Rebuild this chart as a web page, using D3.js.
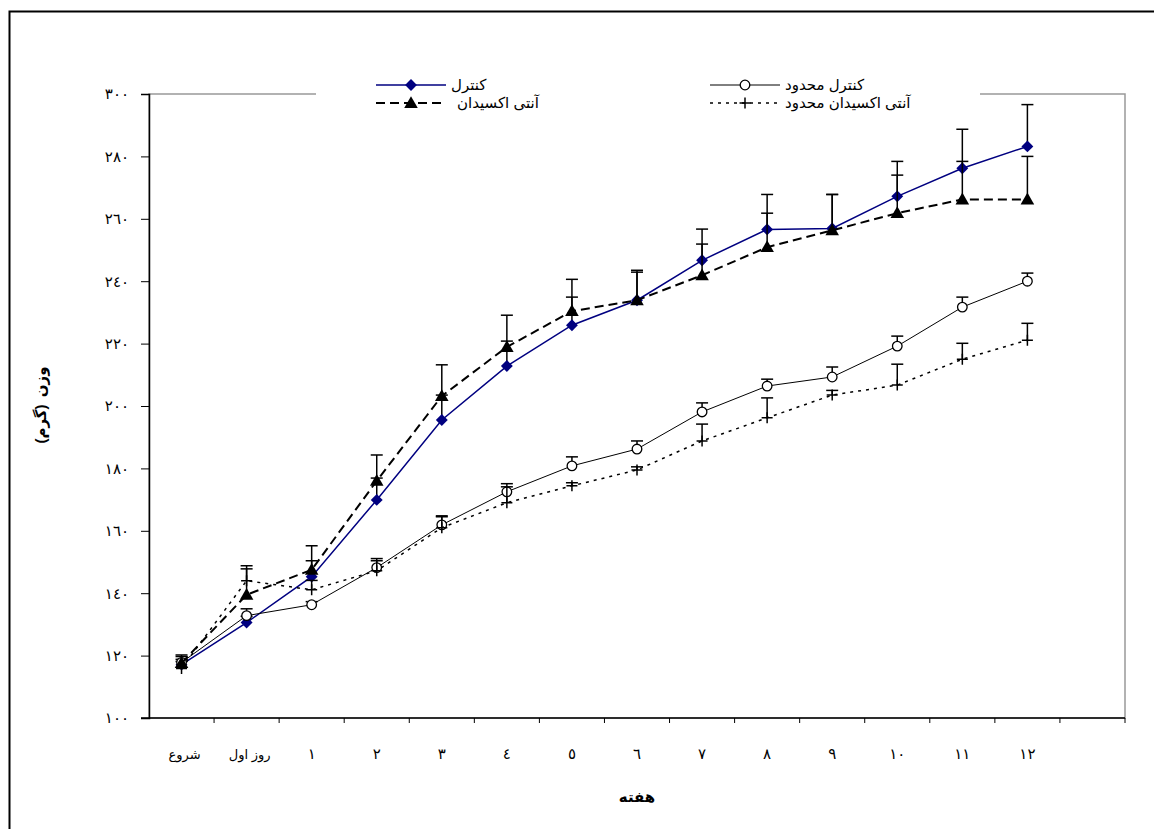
<!DOCTYPE html>
<html>
<head>
<meta charset="utf-8">
<script src="https://cdn.jsdelivr.net/npm/d3@7"></script>
<style>
  body { margin: 0; background: #fff; }
  text { font-family: "Liberation Sans", "DejaVu Sans", sans-serif; }
</style>
</head>
<body>
<div id="chart"></div>
<script>
// categories (weeks) - last slot on the axis is left empty
const categories = ["شروع", "روز اول", "١", "٢", "٣", "٤", "٥", "٦", "٧", "٨", "٩", "١٠", "١١", "١٢"];
const yTicks = [100, 120, 140, 160, 180, 200, 220, 240, 260, 280, 300];

// series values (g) and upper error bars
const control        = [117.1, 130.6, 145.3, 169.9, 195.5, 212.8, 225.9, 233.9, 246.7, 256.6, 256.9, 267.2, 276.2, 283.2];
const controlErr     = [1, 2, 5.1, 7, 8, 8, 9, 9.6, 10, 11.2, 10.9, 11.2, 12.5, 13.4];
const controlR       = [117.8, 132.8, 136.3, 148.2, 161.9, 172.5, 180.8, 186.2, 198.1, 206.4, 209.3, 219.2, 231.7, 240];
const controlRErr    = [1, 2.2, 1, 2.9, 2.6, 2.6, 2.9, 2.6, 2.9, 2.2, 3.2, 3.2, 3.2, 2.6];
const antiox         = [117.6, 139.5, 147.5, 176, 203.2, 218.9, 230.4, 233.9, 241.9, 250.9, 256.3, 261.8, 266.2, 266.2];
const antioxErr      = [2.6, 9.3, 7.7, 8.3, 10, 10.2, 10.2, 9.0, 10, 10.9, 11.5, 12.2, 12.2, 13.8];
const antioxR        = [115.9, 144, 141.1, 147.2, 161, 169, 174.4, 179.5, 188.8, 196.2, 203.5, 206.7, 215, 221.1];
const antioxRErr     = [3.8, 3.8, 3, 3.2, 3.8, 5.1, 1, 1, 5.4, 6.4, 1.5, 6.7, 5.1, 5.4];

const series = [
    { name: "کنترل", values: control, err: controlErr, color: "#000080", width: 1.5, dash: null, marker: "diamond" },
    { name: "کنترل محدود", values: controlR, err: controlRErr, color: "#000", width: 1, dash: null, marker: "circle" },
    { name: "آنتی اکسیدان", values: antiox, err: antioxErr, color: "#000", width: 2, dash: "9,5", marker: "triangle" },
    { name: "آنتی اکسیدان محدود", values: antioxR, err: antioxRErr, color: "#000", width: 1.5, dash: "3,5", marker: "plus" }
];

const toArabic = s => String(s).replace(/[0-9]/g, d => "٠١٢٣٤٥٦٧٨٩"[+d]);

const width = 1154, height = 829;
const margin = { left: 149, right: 1125, top: 94, bottom: 718 };

const svg = d3.select("#chart").append("svg")
    .attr("width", width)
    .attr("height", height);

svg.append("rect").attr("width", width).attr("height", height).attr("fill", "#fff");
// outer chart border
svg.append("rect")
    .attr("x", 9.5).attr("y", 11.5)
    .attr("width", 1160).attr("height", 840)
    .attr("fill", "none").attr("stroke", "#000").attr("stroke-width", 2);

const x = d3.scaleBand()
    .domain(d3.range(categories.length + 1))
    .range([margin.left, margin.right])
    .paddingInner(0).paddingOuter(0);

const y = d3.scaleLinear()
    .domain([100, 300])
    .range([margin.bottom, margin.top]);

const cx = i => x(i) + x.bandwidth() / 2;

// plot area border (grey)
svg.append("rect")
    .attr("x", margin.left).attr("y", margin.top)
    .attr("width", margin.right - margin.left).attr("height", margin.bottom - margin.top)
    .attr("fill", "none").attr("stroke", "#999").attr("stroke-width", 1.5);

// y axis
const yAxis = svg.append("g")
    .attr("transform", `translate(${margin.left},0)`)
    .call(d3.axisLeft(y).tickValues(yTicks).tickSize(8).tickPadding(12).tickFormat(toArabic));
yAxis.select(".domain").attr("stroke", "#000").attr("stroke-width", 1.5);
yAxis.selectAll(".tick line").attr("stroke", "#000").attr("stroke-width", 1);
yAxis.selectAll(".tick text")
    .style("font-size", "15px")
    .style("letter-spacing", "3px")
    .attr("fill", "#000");

// x axis: ticks at category boundaries
const xAxisG = svg.append("g");
xAxisG.append("line")
    .attr("x1", margin.left - 8).attr("x2", margin.right)
    .attr("y1", margin.bottom).attr("y2", margin.bottom)
    .attr("stroke", "#000").attr("stroke-width", 1.5);
xAxisG.selectAll(".xtick")
    .data(d3.range(1, categories.length + 2))
    .enter().append("line")
    .attr("x1", d => d <= categories.length ? x(d) : margin.right)
    .attr("x2", d => d <= categories.length ? x(d) : margin.right)
    .attr("y1", margin.bottom).attr("y2", margin.bottom + 5)
    .attr("stroke", "#000");
xAxisG.selectAll(".xlabel")
    .data(categories)
    .enter().append("text")
    .attr("x", (d, i) => cx(i) + (i < 2 ? 3 : 0))
    .attr("y", 759)
    .attr("text-anchor", "middle")
    .style("font-size", (d, i) => i < 2 ? "13px" : "15px")
    .style("letter-spacing", (d, i) => i < 2 ? "0px" : "2px")
    .text(d => d);

// axis titles
svg.append("text")
    .attr("x", 637).attr("y", 802)
    .attr("text-anchor", "middle")
    .style("font-size", "15px").style("font-weight", "bold")
    .text("هفته");
svg.append("text")
    .attr("transform", "translate(46,405) rotate(-90)")
    .attr("text-anchor", "middle")
    .style("font-size", "15px").style("font-weight", "bold")
    .style("word-spacing", "3px")
    .text("وزن (گرم)");

// marker drawer
function drawMarker(g, type, px, py, color) {
    if (type === "diamond") {
        g.append("path").attr("d", d3.symbol(d3.symbolDiamond2, 90)())
            .attr("transform", `translate(${px},${py})`)
            .attr("fill", color);
    } else if (type === "triangle") {
        g.append("path").attr("d", d3.symbol(d3.symbolTriangle, 80)())
            .attr("transform", `translate(${px},${py + 1})`)
            .attr("fill", "#000");
    } else if (type === "circle") {
        g.append("circle").attr("cx", px).attr("cy", py).attr("r", 4.8)
            .attr("fill", "#fff").attr("stroke", "#000").attr("stroke-width", 1.3);
    } else if (type === "plus") {
        g.append("path").attr("d", `M${px - 5.5},${py}H${px + 5.5}M${px},${py - 5.5}V${py + 5.5}`)
            .attr("stroke", "#000").attr("stroke-width", 1.5).attr("fill", "none");
    }
}

const line = d3.line().x((d, i) => cx(i)).y(d => y(d));

series.forEach(s => {
    const g = svg.append("g");
    g.append("path")
        .attr("d", line(s.values))
        .attr("fill", "none")
        .attr("stroke", s.color)
        .attr("stroke-width", s.width)
        .attr("stroke-dasharray", s.dash);
    // upper error bars
    s.values.forEach((v, i) => {
        const top = y(v + s.err[i]);
        g.append("line").attr("x1", cx(i)).attr("x2", cx(i))
            .attr("y1", y(v)).attr("y2", top)
            .attr("stroke", "#000").attr("stroke-width", 1.5);
        g.append("line").attr("x1", cx(i) - 6).attr("x2", cx(i) + 6)
            .attr("y1", top).attr("y2", top)
            .attr("stroke", "#000").attr("stroke-width", 1.5);
    });
    s.values.forEach((v, i) => drawMarker(g, s.marker, cx(i), y(v), s.color));
});

// legend
const legend = svg.append("g");
legend.append("rect")
    .attr("x", 316).attr("y", 70).attr("width", 664).attr("height", 42)
    .attr("fill", "#fff");
const legendPos = [[376, 85], [710, 85], [376, 103], [710, 103]];
series.forEach((s, i) => {
    const [lx, ly] = legendPos[i];
    legend.append("line")
        .attr("x1", lx).attr("x2", lx + 70)
        .attr("y1", ly).attr("y2", ly)
        .attr("stroke", s.color).attr("stroke-width", s.width)
        .attr("stroke-dasharray", s.dash);
    drawMarker(legend, s.marker, lx + 35, ly, s.color);
    legend.append("text")
        .attr("x", lx + 75 + (i === 2 ? 6 : 0)).attr("y", ly + 5)
        .style("font-size", "15px")
        .text(s.name);
});
</script>
</body>
</html>
